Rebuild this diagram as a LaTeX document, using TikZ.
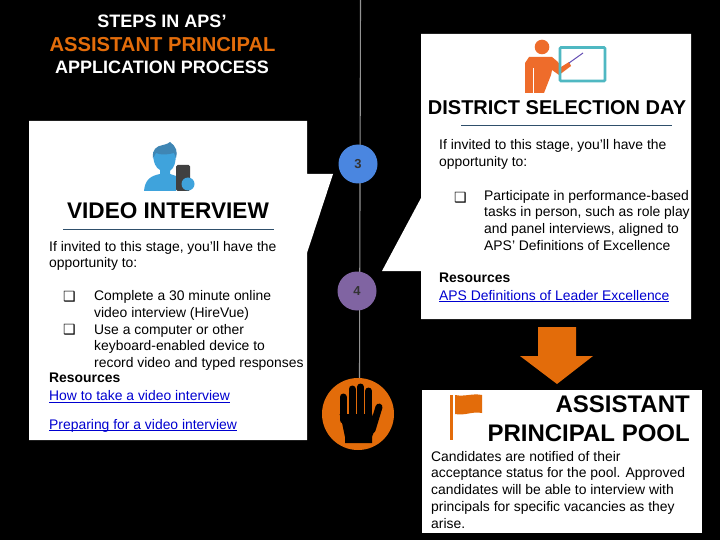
\documentclass[tikz,border=0pt]{standalone}
\usepackage{fontspec}
\setmainfont{Liberation Sans}
\newfontfamily\symfont{DejaVu Sans}
\usetikzlibrary{positioning}
\definecolor{apsorange}{HTML}{E36C0A}
\definecolor{apsblue}{HTML}{4A86E0}
\definecolor{apspurple}{HTML}{8064A2}
\definecolor{linkblue}{HTML}{0000D0}
\definecolor{skyblue}{HTML}{3FA3DC}
\definecolor{skydark}{HTML}{3F86B4}
\definecolor{figorange}{HTML}{EE6C2B}
\definecolor{boardteal}{HTML}{4FB8C2}
\definecolor{rulenavy}{HTML}{2F4F6B}
\newcommand{\linktxt}[1]{\underline{\smash{#1}}}
\tikzset{
  titletext/.style={font=\bfseries\fontsize{18}{20}\selectfont,text=white,inner sep=0pt},
  headtext/.style={font=\bfseries\fontsize{22.6}{28}\selectfont,inner sep=0pt},
  bodytext/.style={font=\fontsize{13.9}{16.7}\selectfont,anchor=north west,inner sep=0pt,align=left},
  boldtext/.style={font=\bfseries\fontsize{13.9}{16.7}\selectfont,anchor=north west,inner sep=0pt},
  linktext/.style={font=\fontsize{13.9}{16.7}\selectfont,text=linkblue,anchor=north west,inner sep=0pt},
  boxmark/.style={font=\symfont\fontsize{14}{16}\selectfont,anchor=north west,inner sep=0pt},
  stepdot/.style={circle,minimum size=39pt,inner sep=0pt,font=\bfseries\fontsize{13}{15}\selectfont,text=black!80}
}
\begin{document}
\begin{tikzpicture}[x=1pt,y=-1pt]
  \fill[black] (0,0) rectangle (720,540);
  \useasboundingbox (0,0) rectangle (720,540);
  % timeline
  \coordinate (linetop) at (360.5,0);
  \coordinate (linebot) at (359.5,380);
  \draw[gray!85,line width=1.1pt] (linetop) -- (linebot);
  % callouts
  \fill[white] (29,121) -- (307,121) -- (307,174) -- (333,174) -- (307,253) -- (307,440) -- (29,440) -- cycle;
  \fill[white] (421,34) -- (691,34) -- (691,319) -- (421,319) -- (421,271) -- (382,271) -- (421,198) -- cycle;
  \fill[white] (422,390) rectangle (702,533);
  % steps
  \node[stepdot,fill=apsblue] (stepthree) at (358,164) {3};
  \node[stepdot,fill=apspurple] (stepfour) at (357,291) {4};
  % arrow
  \fill[apsorange] (538,327) -- (576,327) -- (576,356) -- (593,356) -- (557,384) -- (520,356) -- (538,356) -- cycle;
  % title
  \node[titletext] (titleone) at (162,21.5) {STEPS IN APS’};
  \node[titletext,text=apsorange,font=\bfseries\fontsize{20.2}{22}\selectfont] (titletwo) at (162.5,45) {ASSISTANT PRINCIPAL};
  \node[titletext] (titlethree) at (162,67) {APPLICATION PROCESS};
  % left box
  \fill[skyblue] (144,191) .. controls (145,180) and (150,176) .. (160,174) -- (160,170) .. controls (156,168) and (153,163) .. (153,152) -- (176,152) .. controls (176,163) and (174,168) .. (170,171) -- (170,174) -- (176,176) -- (176,191) -- cycle;
  \fill[skydark] (153,158) .. controls (152,150) and (156,146) .. (163,145) .. controls (167,144) and (169,143) .. (170,142) .. controls (176,146) and (178,152) .. (176,158) -- (174,153) .. controls (167,155) and (160,155) .. (156,153) -- cycle;
  \fill[black!75,rounded corners=1.5pt] (176,165) rectangle (190,191);
  \fill[skyblue] (188,184) circle (6.5);
  \node[headtext] (headleft) at (168,211) {VIDEO INTERVIEW};
  \coordinate (ruleleftA) at (63,229);
  \coordinate (ruleleftB) at (274,229);
  \draw[rulenavy,line width=0.8pt] (ruleleftA) -- (ruleleftB);
  \node[bodytext] (introleft) at (49,241) {If invited to this stage, you’ll have the\\opportunity to:};
  \node[boxmark] (markone) at (63,291) {❑};
  \node[bodytext] (itemone) at (94,290.7) {Complete a 30 minute online\\video interview (HireVue)};
  \node[boxmark] (marktwo) at (63,324) {❑};
  \node[bodytext] (itemtwo) at (94,324) {Use a computer or other\\keyboard-enabled device to\\record video and typed responses};
  \node[boldtext] (resleft) at (49,373) {Resources};
  \node[linktext] (linkone) at (49,400.7) {\linktxt{How to take a video interview}};
  \node[linktext] (linktwo) at (49,429) {\linktxt{Preparing for a video interview}};
  % right box
  \fill[figorange] (525,93) -- (525,63) -- (529,57) -- (552,57) -- (558,62) -- (561,67) -- (569,62) -- (571,66) -- (559,75) -- (552,70) -- (551,75) -- (544,93) -- cycle;
  \fill[white] (532.5,68) rectangle (533.8,93);
  \fill[figorange] (542,47) circle (7.3);
  \draw[boardteal,line width=2.6pt,rounded corners=1pt] (560,47.5) rectangle (605,81);
  \draw[apspurple!80!blue,line width=1pt] (569,63) -- (583,53);
  \node[headtext,font=\bfseries\fontsize{20}{26}\selectfont] (headright) at (557,107.5) {DISTRICT SELECTION DAY};
  \coordinate (rulerightA) at (461,125);
  \coordinate (rulerightB) at (672,125);
  \draw[rulenavy,line width=0.8pt] (rulerightA) -- (rulerightB);
  \node[bodytext] (introright) at (439,139.5) {If invited to this stage, you’ll have the\\opportunity to:};
  \node[boxmark] (markthree) at (454,192) {❑};
  \node[bodytext] (itemthree) at (484,190) {Participate in performance-based\\tasks in person, such as role play\\and panel interviews, aligned to\\APS’ Definitions of Excellence};
  \node[boldtext] (resright) at (439,272.7) {Resources};
  \node[linktext] (linkthree) at (439,300) {\linktxt{APS Definitions of Leader Excellence}};
  % pool box
  \fill[apsorange] (449.5,395) rectangle (453,440);
  \fill[apsorange] (455,395) .. controls (465,397) and (472,393) .. (482,395) -- (482,413) .. controls (472,411) and (465,416) .. (455,414) -- cycle;
  \node[headtext,anchor=east,font=\bfseries\fontsize{24}{28}\selectfont] (headpoolA) at (690,404) {ASSISTANT};
  \node[headtext,anchor=east,font=\bfseries\fontsize{24}{28}\selectfont] (headpoolB) at (690,433) {PRINCIPAL POOL};
  \node[bodytext] (poolbody) at (431,451) {Candidates are notified of their\\acceptance status for the pool. Approved\\candidates will be able to interview with\\principals for specific vacancies as they\\arise.};
  % stop sign
  \fill[apsorange] (358,414) circle (36);
  \fill[black] (341,418) -- (345,437) -- (345,443) -- (372,443) -- (372,437) -- (376,426) -- (372,414) -- (339.5,414) -- cycle;
  \foreach \fx/\ftop in {343/397,352/389,360.5/387,368.5/391}
    \draw[black,line width=7pt,line cap=round] (\fx,\ftop) -- (\fx,420);
  \draw[black,line width=7pt,line cap=round] (379,407) -- (372,430);
\end{tikzpicture}
\end{document}
